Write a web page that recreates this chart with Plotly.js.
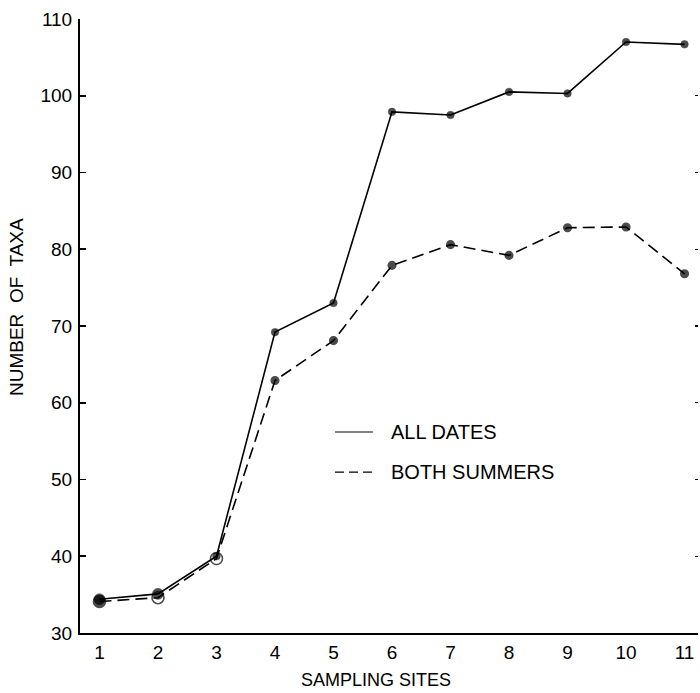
<!DOCTYPE html>
<html>
<head>
<meta charset="utf-8">
<script src="https://cdn.plot.ly/plotly-3.0.1.min.js"></script>
<style>html,body{margin:0;padding:0;background:#fff;}#chart{width:700px;height:693px;}</style>
</head>
<body>
<div id="chart"></div>
<script>
const sites = [1, 2, 3, 4, 5, 6, 7, 8, 9, 10, 11];
const allDates = [34.4, 35.1, 40.0, 69.2, 73.0, 97.9, 97.5, 100.5, 100.3, 107.0, 106.7];
const bothSummers = [34.1, 34.6, 39.7, 62.9, 68.1, 77.9, 80.6, 79.2, 82.8, 82.9, 76.8];
const yTicks = [30, 40, 50, 60, 70, 80, 90, 100, 110];
const seriesNames = ["ALL DATES", "BOTH SUMMERS"];
const xTitle = "SAMPLING SITES";
const yTitle = "NUMBER  OF  TAXA";

const FONT = "Liberation Sans, Arial, sans-serif";

const traces = [
  {
    x: sites, y: allDates, name: seriesNames[0], type: "scatter", mode: "lines+markers",
    line: {color: "#000", width: 1.6},
    marker: {color: "#000", size: sites.map((s, i) => i < 2 ? 11 : 7.5), symbol: "circle",
             line: {color: "#000", width: 0.6}},
    showlegend: false, hoverinfo: "x+y"
  },
  {
    x: sites, y: bothSummers, name: seriesNames[1], type: "scatter", mode: "lines+markers",
    line: {color: "#000", width: 1.6, dash: "12px,6px"},
    marker: {
      color: "#000",
      size: sites.map((s, i) => i < 3 ? 12 : 7.5),
      symbol: sites.map((s, i) => (i === 1 || i === 2) ? "circle-open" : "circle"),
      line: {color: "#000", width: 1.6}
    },
    showlegend: false, hoverinfo: "x+y"
  },
  {
    x: [sites[0]], y: [yTicks[0]], yaxis: "y2", mode: "markers",
    marker: {opacity: 0}, showlegend: false, hoverinfo: "skip"
  }
];

const layout = {
  width: 700, height: 693,
  margin: {l: 80, r: 2, t: 19, b: 60},
  paper_bgcolor: "#fff", plot_bgcolor: "#fff",
  font: {family: FONT, size: 19, color: "#000"},
  showlegend: false,
  xaxis: {
    range: [0.667, 11.23],
    tickvals: sites, ticktext: sites.map(String),
    ticks: "", showgrid: false, zeroline: false,
    showline: true, linecolor: "#000", linewidth: 2,
    tickfont: {family: FONT, size: 19, color: "#000"},
    ticklabelstandoff: 1
  },
  yaxis: {
    range: [30, 110],
    tickvals: yTicks, ticktext: yTicks.map(String),
    ticks: "inside", ticklen: 6, tickwidth: 1.6, tickcolor: "#000",
    showgrid: false, zeroline: false,
    showline: true, linecolor: "#000", linewidth: 2,
    tickfont: {family: FONT, size: 19, color: "#000"},
    ticklabelstandoff: 2
  },
  yaxis2: {
    overlaying: "y", side: "right", range: [30, 110],
    tickvals: yTicks, showticklabels: false,
    ticks: "inside", ticklen: 3, tickwidth: 1.2, tickcolor: "#000",
    showgrid: false, zeroline: false, showline: false
  },
  shapes: [
    {type: "line", xref: "paper", yref: "paper", x0: 0.4126, x1: 0.474, y0: 0.3274, y1: 0.3274,
     line: {color: "#000", width: 1.2}},
    {type: "line", xref: "paper", yref: "paper", x0: 0.4126, x1: 0.474, y0: 0.262, y1: 0.262,
     line: {color: "#000", width: 1.4, dash: "9px,5px"}}
  ],
  annotations: [
    {xref: "paper", yref: "paper", x: 0.5, y: 0.3274, xanchor: "left", yanchor: "middle",
     text: seriesNames[0], showarrow: false, font: {family: FONT, size: 20, color: "#000"}},
    {xref: "paper", yref: "paper", x: 0.5, y: 0.262, xanchor: "left", yanchor: "middle",
     text: seriesNames[1], showarrow: false, font: {family: FONT, size: 20, color: "#000"}},
    {xref: "paper", yref: "paper", x: (376 - 80) / 618, y: -(680 - 633) / 614, xanchor: "center", yanchor: "middle",
     text: xTitle, showarrow: false, font: {family: FONT, size: 18, color: "#000"}},
    {xref: "paper", yref: "paper", x: -(80 - 16) / 618, y: (633 - 307) / 614, xanchor: "center", yanchor: "middle",
     text: yTitle, textangle: -90, showarrow: false, font: {family: FONT, size: 19, color: "#000"}}
  ]
};

Plotly.newPlot("chart", traces, layout, {displayModeBar: false, staticPlot: true});
</script>
</body>
</html>
